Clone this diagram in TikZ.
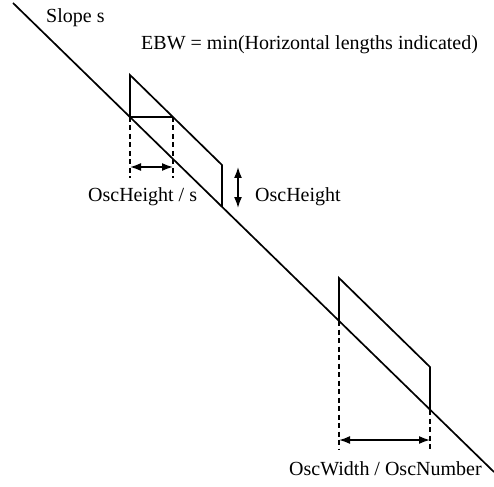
\documentclass[tikz,border=0pt]{standalone}
\usepackage{fontspec}
\setmainfont{Liberation Serif}
\usetikzlibrary{arrows.meta}
\tikzset{
  solidline/.style={line width=1.7pt},
  dashline/.style={line width=1.3pt, dash pattern=on 5pt off 3.5pt},
  dimarrow/.style={line width=1.6pt, {Latex[length=11pt,width=8pt]}-{Latex[length=11pt,width=8pt]}},
  lbl/.style={font=\fontsize{20}{24}\selectfont, inner sep=0pt, anchor=base west}
}
\begin{document}
\begin{tikzpicture}[x=1pt,y=-1pt]
\useasboundingbox (0,0) rectangle (494,486);
% main sloped line
\coordinate (m1) at (13,3);
\coordinate (m2) at (494,472);
\draw[solidline] (m1) -- (m2);
% upper parallelogram
\coordinate (a1) at (130,117);
\coordinate (a2) at (130,75);
\coordinate (a3) at (222,165);
\coordinate (a4) at (222,207);
\coordinate (a5) at (173,117);
\draw[solidline] (a1) -- (a2) -- (a3) -- (a4);
\draw[solidline] (a1) -- (a5);
\coordinate (d1) at (130,178);
\coordinate (d2) at (173,178);
\draw[dashline] (a1) -- (d1);
\draw[dashline] (a5) -- (d2);
\coordinate (h1) at (130,167);
\coordinate (h2) at (173,167);
\draw[dimarrow] (h1) -- (h2);
\coordinate (v1) at (238,167);
\coordinate (v2) at (238,208);
\draw[dimarrow] (v1) -- (v2);
% lower parallelogram
\coordinate (b1) at (339,321);
\coordinate (b2) at (339,278);
\coordinate (b3) at (430,367);
\coordinate (b4) at (430,410);
\draw[solidline] (b1) -- (b2) -- (b3) -- (b4);
\coordinate (e1) at (339,449);
\coordinate (e2) at (430,449);
\draw[dashline] (b1) -- (e1);
\draw[dashline] (b4) -- (e2);
\coordinate (w1) at (339,440);
\coordinate (w2) at (430,440);
\draw[dimarrow] (w1) -- (w2);
% labels
\node[lbl] (slope) at (46,23) {Slope s};
\node[lbl] (ebw) at (141,50) {EBW = min(Horizontal lengths indicated)};
\node[lbl] (oh1) at (88,201) {OscHeight / s};
\node[lbl] (oh2) at (255,201) {OscHeight};
\node[lbl] (ow) at (289,475) {OscWidth / OscNumber};
\end{tikzpicture}
\end{document}
